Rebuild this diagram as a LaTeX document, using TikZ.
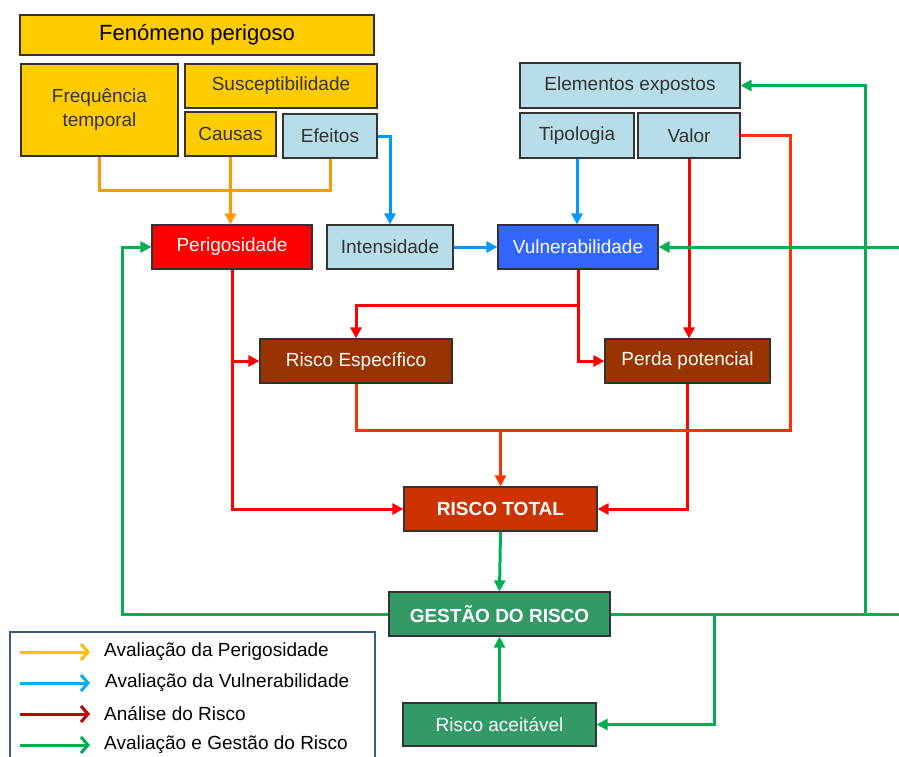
\documentclass[tikz,border=0pt]{standalone}
\usepackage{fontspec}
\setmainfont{Liberation Sans}
\usetikzlibrary{arrows.meta,calc}
\definecolor{ybox}{HTML}{FFCC00}
\definecolor{lbox}{HTML}{B7DDE8}
\definecolor{rbox}{HTML}{FF0000}
\definecolor{bbox}{HTML}{3366FF}
\definecolor{brbox}{HTML}{993300}
\definecolor{rtbox}{HTML}{CC3300}
\definecolor{gbox}{HTML}{339966}
\definecolor{bordc}{HTML}{333333}
\definecolor{txtd}{HTML}{333333}
\definecolor{lorange}{HTML}{FF9900}
\definecolor{lblue}{HTML}{0099FF}
\definecolor{lred}{HTML}{FF0000}
\definecolor{lorred}{HTML}{FF3300}
\definecolor{lgreen}{HTML}{00B050}
\definecolor{legy}{HTML}{FFC000}
\definecolor{legc}{HTML}{00B0F0}
\definecolor{legr}{HTML}{C00000}
\definecolor{legborder}{HTML}{3A5A8C}
\begin{document}
\begin{tikzpicture}[x=1pt,y=-1pt,
  box/.style={draw=bordc, line width=1.2pt, inner sep=0pt, align=center,
    font=\fontsize{19}{24}\selectfont, text=txtd},
  yb/.style={box, fill=ybox},
  lb/.style={box, fill=lbox},
  darkb/.style={box, text=white},
  conn/.style={line width=3pt},
  tip/.style={-{Triangle[length=11pt,width=11pt]}},
  legarrow/.style={line width=3pt, -{Straight Barb[length=7pt,width=16pt,line width=3pt]}},
  legtext/.style={anchor=west, font=\fontsize{19}{22}\selectfont, text=black, inner sep=0pt}
]
\useasboundingbox (0,0) rectangle (899,756);
\fill[white] (0,0) rectangle (899,756);

% boxes
\node[yb, minimum width=354, minimum height=40, font=\fontsize{22}{26}\selectfont, text=black] (fen) at (197,35) {Fenómeno perigoso};
\node[yb, minimum width=157, minimum height=92] (freq) at (99.5,110) {Frequência\\temporal};
\node[yb, minimum width=192, minimum height=44] (susc) at (281,86) {Susceptibilidade};
\node[yb, minimum width=91, minimum height=44] (causas) at (230.5,134) {Causas};
\node[lb, minimum width=94, minimum height=44] (efeitos) at (330,136) {Efeitos};
\node[darkb, fill=rbox, minimum width=160, minimum height=44] (perig) at (232,247) {Perigosidade};
\node[lb, minimum width=126, minimum height=44] (inten) at (390,247) {Intensidade};
\node[darkb, fill=bbox, minimum width=160, minimum height=44] (vuln) at (578,247) {Vulnerabilidade};
\node[lb, minimum width=220, minimum height=45] (elem) at (630,85.5) {Elementos expostos};
\node[lb, minimum width=114, minimum height=45] (tipo) at (577,135.5) {Tipologia};
\node[lb, minimum width=102, minimum height=45] (valor) at (689,135.5) {Valor};
\node[darkb, fill=brbox, minimum width=192, minimum height=44] (resp) at (356,361) {Risco Específico};
\node[darkb, fill=brbox, minimum width=165, minimum height=44] (perda) at (687.5,361) {Perda potencial};
\node[darkb, fill=rtbox, minimum width=193, minimum height=44, font=\bfseries\fontsize{19}{24}\selectfont] (rtotal) at (500.5,509) {RISCO TOTAL};
\node[darkb, fill=gbox, minimum width=221, minimum height=44, font=\bfseries\fontsize{19}{24}\selectfont] (gestao) at (499.5,614) {GESTÃO DO RISCO};
\node[darkb, fill=gbox, minimum width=193, minimum height=43] (aceit) at (499.5,724.5) {Risco aceitável};

% orange connectors
\coordinate (oj) at (232,190);
\draw[conn, lorange] (freq.south) |- (oj);
\draw[conn, lorange] (efeitos.south) |- (oj);
\draw[conn, lorange, tip] (causas.south) -- (causas.south |- perig.north);

% blue connectors
\draw[conn, lblue, tip] (efeitos.east) -| (inten.north);
\draw[conn, lblue, tip] (inten.east) -- (vuln.west);
\draw[conn, lblue, tip] (tipo.south) -- (tipo.south |- vuln.north);

% red connectors
\draw[conn, lred, tip] (perig.south) |- (rtotal.west);
\draw[conn, lred, tip] (perig.south |- resp.west) -- (resp.west);
\draw[conn, lred, tip] (vuln.south) |- (perda.west);
\coordinate (vb) at (578,305);
\draw[conn, lred, tip] (vb) -| (resp.north);
\draw[conn, lred, tip] (valor.south) -- (valor.south |- perda.north);
\draw[conn, lred, tip] (perda.south) |- (rtotal.east);

% orange-red connectors
\coordinate (rr) at (790,430);
\draw[conn, lorred] (valor.east) -| (rr) -| (resp.south);
\draw[conn, lorred, tip] (rtotal.north |- rr) -- (rtotal.north);

% green connectors
\draw[conn, lgreen, tip] (rtotal.south) -- (gestao.north);
\coordinate (gl) at (122,247);
\draw[conn, lgreen, tip] (gestao.west) -| (gl) -- (perig.west);
\coordinate (gr) at (912,614);
\coordinate (gr2) at (912,247);
\draw[conn, lgreen] (gestao.east) -- (gr);
\draw[conn, lgreen, tip] (gr) -- (gr2) -- (vuln.east);
\coordinate (gx) at (865,614);
\draw[conn, lgreen, tip] (gx) |- (elem.east);
\coordinate (ga) at (714,614);
\draw[conn, lgreen, tip] (ga) |- (aceit.east);
\draw[conn, lgreen, tip] (aceit.north) -- (gestao.south);

% legend
\draw[legborder, line width=2.5pt, fill=white] (10,632) rectangle (375,780);
\node[legtext] (t1) at (104,652) {Avaliação da Perigosidade};
\node[legtext] (t2) at (105,683) {Avaliação da Vulnerabilidade};
\node[legtext] (t3) at (104,714) {Análise do Risco};
\node[legtext] (t4) at (104,745) {Avaliação e Gestão do Risco};
\draw[legarrow, legy] (20,652) -- (90,652);
\draw[legarrow, legc] (20,683) -- (90,683);
\draw[legarrow, legr] (20,714) -- (90,714);
\draw[legarrow, lgreen] (20,745) -- (90,745);
\end{tikzpicture}
\end{document}
